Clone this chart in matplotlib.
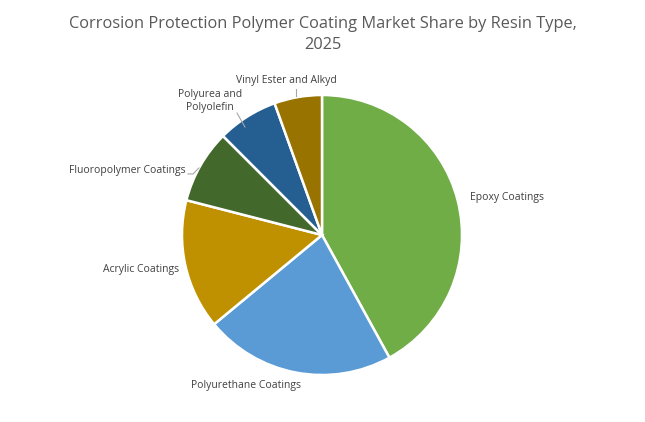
import matplotlib
matplotlib.use("agg")
import matplotlib.pyplot as plt

# share by resin type (%)
resins = ["Epoxy Coatings", "Polyurethane Coatings", "Acrylic Coatings",
          "Fluoropolymer Coatings", "Polyurea and\nPolyolefin", "Vinyl Ester and Alkyd"]
shares = [42, 22, 15, 8.5, 7, 5.5]
colors = ["#70AD47", "#5B9BD5", "#BF9000", "#43682B", "#255E91", "#997300"]

plt.rcParams["font.family"] = ["Open Sans", "DejaVu Sans"]

fig = plt.figure(figsize=(6.45, 4.22), dpi=100)
fig.text(0.5, 0.963, "Corrosion Protection Polymer Coating Market Share by Resin Type,\n2025",
         ha="center", va="top", fontsize=11.8, color="#595959", linespacing=1.45)

# pie axes: center ~ (322, 235) px, radius ~140 px
ax = fig.add_axes([(322 - 140) / 645, (422 - 235 - 140) / 422, 280 / 645, 280 / 422])
wedges, _ = ax.pie(shares, colors=colors, startangle=90, counterclock=False,
                   radius=1.0, wedgeprops=dict(edgecolor="white", linewidth=1.8))
ax.set_xlim(-1, 1)
ax.set_ylim(-1, 1)
ax.set_aspect("auto")
ax.axis("off")

tc = "#404040"
fs = 7.5
lc = "#a6a6a6"
# label placement (radius units)
ax.text(1.057, 0.265, resins[0], ha="left", va="center", fontsize=fs, color=tc)
ax.text(-0.543, -1.078, resins[1], ha="center", va="center", fontsize=fs, color=tc)
ax.text(-1.021, -0.243, resins[2], ha="right", va="center", fontsize=fs, color=tc)
ax.text(-0.971, 0.464, resins[3], ha="right", va="center", fontsize=fs, color=tc)
ax.text(-0.80, 0.957, resins[4], ha="center", va="center", fontsize=fs, color=tc,
        linespacing=1.2)
ax.text(-0.257, 1.10, resins[5], ha="center", va="center", fontsize=fs, color=tc)

# leader lines
ax.plot([-0.957, -0.921, -0.879], [0.436, 0.436, 0.479], color=lc, lw=0.8, clip_on=False)
ax.plot([-0.607, -0.55], [0.871, 0.771], color=lc, lw=0.8, clip_on=False)
ax.plot([-0.186, -0.186], [1.043, 0.993], color=lc, lw=0.8, clip_on=False)

fig.savefig("out.png", dpi=100)
